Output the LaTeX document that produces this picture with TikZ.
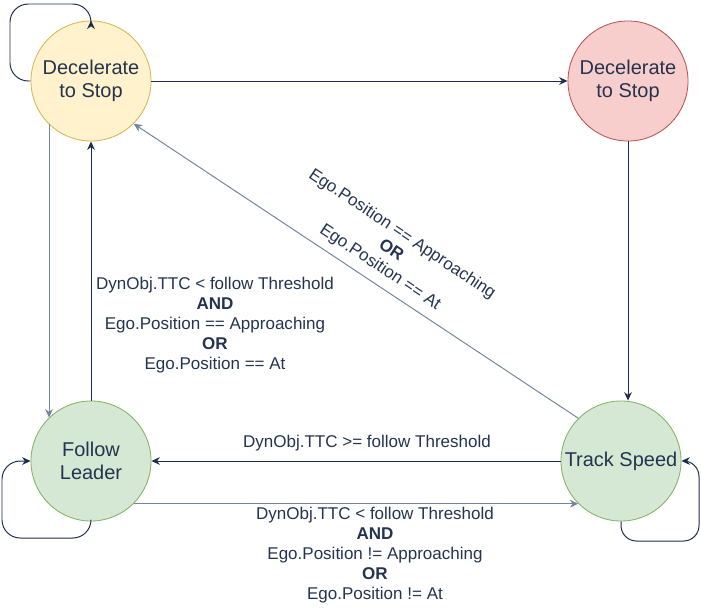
\documentclass[tikz,border=0pt]{standalone}
\usepackage{fontspec}
\setmainfont{Liberation Sans}
\usetikzlibrary{arrows.meta}
\definecolor{ink}{HTML}{24344F}
\definecolor{edgedark}{HTML}{1E2D4A}
\definecolor{edgegray}{HTML}{76849B}
\definecolor{yelfill}{HTML}{FFF2CC}
\definecolor{yeldraw}{HTML}{D6B656}
\definecolor{redfill}{HTML}{F8CECC}
\definecolor{reddraw}{HTML}{B85450}
\definecolor{grnfill}{HTML}{D5E8D4}
\definecolor{grndraw}{HTML}{82B366}

\begin{document}
\begin{tikzpicture}[x=0.025cm, y=-0.025cm,
  state/.style={circle, draw, minimum size=3cm, inner sep=0pt, align=center, text=ink, line width=0.6pt, font=\fontsize{14.2}{16.6}\selectfont},
  edge/.style={-{Stealth[length=6pt,width=5.5pt]}, draw=edgedark, line width=0.7pt},
  fadeedge/.style={edge, draw=edgegray},
  cond/.style={align=center, text=ink, inner sep=0pt, font=\fontsize{12.1}{14.2}\selectfont}
]
\useasboundingbox (0,0) rectangle (701,607);

\node[state, fill=yelfill, draw=yeldraw] (decel) at (91,81) {Decelerate\\to Stop};
\node[state, fill=redfill, draw=reddraw] (stop) at (628,81) {Decelerate\\to Stop};
\node[state, fill=grnfill, draw=grndraw] (follow) at (91,461) {Follow\\Leader};
\node[state, fill=grnfill, draw=grndraw] (track) at (621,461) {Track Speed};

% self loops
\draw[edge, rounded corners=13pt] (decel.west) -| (10,4) -| (decel.north);
\draw[edge, rounded corners=13pt] (follow.south) |- (2,538) |- (follow.west);
\draw[edge, rounded corners=11pt] (track.south) |- (699,541) |- (track.east);

\draw[edge] (decel.east) -- (stop.west);
\draw[edge] (stop.south) -- (stop.south |- track.north);
\draw[fadeedge] (track.135) -- (decel.-45);
\draw[fadeedge] (decel.226) -- (follow.134);
\draw[edge] (follow.north) -- (decel.south);
\draw[edge] (track.west) -- (follow.east);
\draw[fadeedge] (follow.-45) -- (track.-135);

\node[cond, rotate=-33.6] (diaglbl) at (391,251) {Ego.Position == Approaching\\\textbf{OR}\\Ego.Position == At};
\node[cond] (uplbl) at (215,325) {DynObj.TTC < follow Threshold\\\textbf{AND}\\Ego.Position == Approaching\\\textbf{OR}\\Ego.Position == At};
\node[cond] (backlbl) at (367,443) {DynObj.TTC >= follow Threshold};
\node[cond] (trklbl) at (375,555) {DynObj.TTC < follow Threshold\\\textbf{AND}\\Ego.Position != Approaching\\\textbf{OR}\\Ego.Position != At};
\end{tikzpicture}
\end{document}
